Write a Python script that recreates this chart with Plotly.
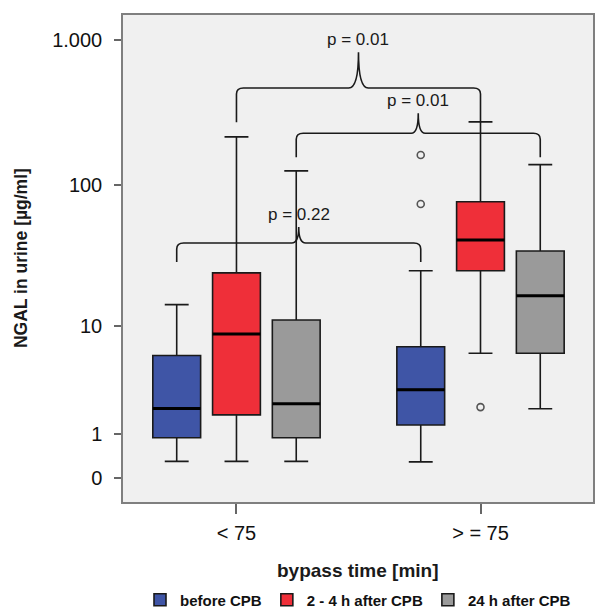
import numpy as np
import plotly.graph_objects as go

# ---------------- data (µg/ml) ----------------
groups = ["< 75", "> = 75"]
series = ["before CPB", "2 - 4 h after CPB", "24 h after CPB"]
colors = ["#3F55A6", "#EF2F39", "#9A9A9A"]

lower = {"before CPB": [0.30, 0.29], "2 - 4 h after CPB": [0.30, 6.15], "24 h after CPB": [0.30, 1.98]}
q1 = {"before CPB": [0.89, 1.31], "2 - 4 h after CPB": [1.71, 25.3], "24 h after CPB": [0.89, 6.15]}
median = {"before CPB": [2.0, 3.03], "2 - 4 h after CPB": [8.7, 41.7], "24 h after CPB": [2.23, 16.7]}
q3 = {"before CPB": [5.9, 6.93], "2 - 4 h after CPB": [24.4, 77.0], "24 h after CPB": [11.1, 34.9]}
upper = {"before CPB": [14.4, 25.3], "2 - 4 h after CPB": [216.0, 274.0], "24 h after CPB": [126.0, 139.0]}
outliers = {"before CPB": [[], [162.0, 74.3]], "2 - 4 h after CPB": [[], [2.06]], "24 h after CPB": [[], []]}

tick_values = [0, 1, 10, 100, 1000]
tick_labels = ["0", "1", "10", "100", "1.000"]

# comparisons: (series a, group a, series b, group b, bracket level µg/ml, drop, rise, label)
comparisons = [
    ("before CPB", 0, "before CPB", 1, 39.7, 0.13, 0.11, "p = 0.22"),
    ("2 - 4 h after CPB", 0, "2 - 4 h after CPB", 1, 468.0, 0.235, 0.245, "p = 0.01"),
    ("24 h after CPB", 0, "24 h after CPB", 1, 229.0, 0.165, 0.137, "p = 0.01"),
]


def tr(v):
    return np.log10(np.asarray(v, dtype=float) + 1.0)


STEP = 60 / 245
WIDTH = 48 / 245
PLOT_H = 487


def pos(si, gi):
    return gi + (si - 1) * STEP


fig = go.Figure()
for si, s in enumerate(series):
    xs = [pos(si, gi) for gi in range(len(groups))]
    fig.add_trace(go.Box(
        x=xs, q1=tr(q1[s]), median=tr(median[s]), q3=tr(q3[s]),
        lowerfence=tr(lower[s]), upperfence=tr(upper[s]),
        name=s, width=WIDTH, whiskerwidth=0.5, boxpoints=False,
        fillcolor=colors[si], line=dict(color="#1a1a1a", width=1.6),
        hoverinfo="skip",
    ))
for si, s in enumerate(series):
    for gi in range(len(groups)):
        c = pos(si, gi)
        m = float(tr(median[s][gi]))
        fig.add_trace(go.Scatter(
            x=[c - WIDTH / 2, c + WIDTH / 2], y=[m, m], mode="lines",
            line=dict(color="black", width=3), showlegend=False, hoverinfo="skip"))
        if outliers[s][gi]:
            fig.add_trace(go.Scatter(
                x=[c] * len(outliers[s][gi]), y=tr(outliers[s][gi]), mode="markers",
                marker=dict(symbol="circle-open", size=7, color="#555555", line=dict(width=1.6)),
                showlegend=False, hoverinfo="skip"))

# brackets
rx = 7 / 245
ry = 6 / 146
for sa, ga, sb, gb, lvl, drop, rise, lab in comparisons:
    x0 = pos(series.index(sa), ga)
    x1 = pos(series.index(sb), gb)
    xm = (x0 + x1) / 2
    yh = float(tr(lvl))
    prx = rx * (1.4 if rise > 0.2 else 1.0)
    path = (f"M {x0},{yh - drop} L {x0},{yh - ry} Q {x0},{yh} {x0 + rx},{yh} "
            f"L {xm - prx},{yh} Q {xm},{yh} {xm},{yh + rise} "
            f"Q {xm},{yh} {xm + prx},{yh} L {x1 - rx},{yh} "
            f"Q {x1},{yh} {x1},{yh - ry} L {x1},{yh - drop}")
    fig.add_shape(type="path", path=path, xref="x", yref="y",
                  line=dict(color="#1a1a1a", width=1.6))
    fig.add_annotation(x=xm, y=yh + rise, xref="x", yref="y", text=lab, showarrow=False,
                       yanchor="bottom", yshift=1,
                       font=dict(family="Liberation Sans, Arial", size=17, color="#1a1a1a"))

fig.add_annotation(x=-0.218, y=0.5, xref="paper", yref="paper", text="<b>NGAL in urine [µg/ml]</b>",
                   textangle=-90, showarrow=False, xanchor="center", yanchor="middle",
                   font=dict(family="Liberation Sans, Arial", size=17.5, color="#1a1a1a"))
fig.add_annotation(x=0.5, y=-68 / PLOT_H, xref="paper", yref="paper", text="<b>bypass time [min]</b>",
                   showarrow=False, xanchor="center", yanchor="middle",
                   font=dict(family="Liberation Sans, Arial", size=19, color="#1a1a1a"))

fig.update_layout(
    width=596, height=617,
    margin=dict(l=123, r=1, t=15, b=115),
    paper_bgcolor="white", plot_bgcolor="#F0F0F0",
    boxmode="overlay",
    font=dict(family="Liberation Sans, Arial", color="#111111"),
    legend=dict(orientation="h", x=0.5, xanchor="center", y=-98 / PLOT_H, yanchor="middle",
                font=dict(size=15, family="Liberation Sans, Arial", weight="bold"),
                bgcolor="rgba(0,0,0,0)", itemwidth=30),
    xaxis=dict(range=[-0.465, 1.461], tickvals=list(range(len(groups))), ticktext=groups,
               ticks="outside", ticklen=10, tickcolor="#666", tickwidth=1.5,
               showline=True, mirror=True, linecolor="#7f7f7f", linewidth=1.5,
               showgrid=False, zeroline=False, tickfont=dict(size=20), ticklabelstandoff=2),
    yaxis=dict(range=[-0.164, 3.171], tickvals=list(tr(tick_values)), ticktext=tick_labels,
               ticks="outside", ticklen=7, tickcolor="#666", tickwidth=1.5,
               showline=True, mirror=True, linecolor="#7f7f7f", linewidth=1.5,
               showgrid=False, zeroline=False, tickfont=dict(size=20), ticklabelstandoff=8),
)

fig.write_html(
    "out.html",
    config={"displayModeBar": False},
    post_script=("document.documentElement.style.margin='0';document.body.style.margin='0';"
                 "document.documentElement.style.overflow='hidden';document.body.style.overflow='hidden';"),
)
